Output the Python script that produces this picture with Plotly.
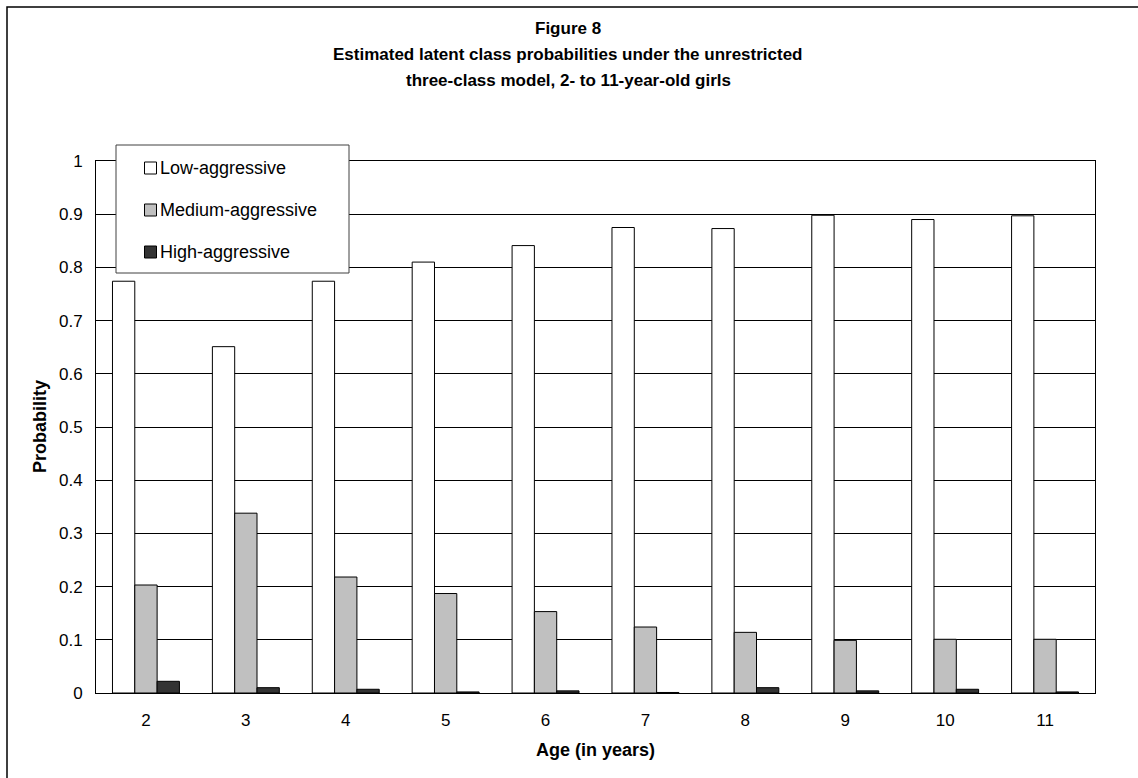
import plotly.graph_objects as go

# Age groups and estimated latent class probabilities
ages = ["2", "3", "4", "5", "6", "7", "8", "9", "10", "11"]
low_aggressive = [0.774, 0.651, 0.774, 0.810, 0.841, 0.875, 0.873, 0.898, 0.890, 0.897]
medium_aggressive = [0.203, 0.338, 0.218, 0.187, 0.153, 0.124, 0.114, 0.099, 0.101, 0.101]
high_aggressive = [0.022, 0.010, 0.007, 0.002, 0.004, 0.001, 0.010, 0.004, 0.007, 0.002]

class_names = ["Low-aggressive", "Medium-aggressive", "High-aggressive"]
class_colors = ["#FFFFFF", "#C0C0C0", "#333333"]
y_ticks = [0, 0.1, 0.2, 0.3, 0.4, 0.5, 0.6, 0.7, 0.8, 0.9, 1]
y_tick_text = ["0", "0.1", "0.2", "0.3", "0.4", "0.5", "0.6", "0.7", "0.8", "0.9", "1"]

title_lines = [
    "Figure 8",
    "Estimated latent class probabilities under the unrestricted",
    "three-class model, 2- to 11-year-old girls",
]

W, H = 1138, 778
ML, MR, MT, MB = 96, 43, 161, 85
PW, PH = W - ML - MR, H - MT - MB
FONT = "Liberation Sans, Arial, sans-serif"


def px_x(px):
    return (px - ML) / PW


def px_y(py):
    return (H - MB - py) / PH


fig = go.Figure()
for name, vals, col in zip(class_names, [low_aggressive, medium_aggressive, high_aggressive], class_colors):
    fig.add_trace(go.Bar(
        x=ages, y=vals, name=name,
        marker=dict(color=col, line=dict(color="#000000", width=1)),
        showlegend=False,
    ))

shapes = []
annotations = []

# outer chart frame (top and left edges visible)
shapes.append(dict(type="rect", xref="paper", yref="paper",
                   x0=px_x(7), x1=px_x(1160), y0=px_y(7), y1=px_y(800),
                   line=dict(color="#000000", width=1.5), fillcolor="rgba(0,0,0,0)", layer="above"))

# legend box
shapes.append(dict(type="rect", xref="paper", yref="paper",
                   x0=px_x(116), x1=px_x(349), y0=px_y(145), y1=px_y(273),
                   line=dict(color="#404040", width=1), fillcolor="#FFFFFF", layer="above"))
for name, col, cy in zip(class_names, class_colors, [168, 210, 252]):
    shapes.append(dict(type="rect", xref="paper", yref="paper",
                       x0=px_x(144.5), x1=px_x(156.5), y0=px_y(cy - 6), y1=px_y(cy + 6),
                       line=dict(color="#000000", width=1), fillcolor=col, layer="above"))
    annotations.append(dict(xref="paper", yref="paper", x=px_x(158), y=px_y(cy),
                            text=name, showarrow=False, xanchor="left", yanchor="middle",
                            font=dict(family=FONT, size=18, color="#000000")))

# title lines
for line, cy in zip(title_lines, [28, 54, 80]):
    annotations.append(dict(xref="paper", yref="paper", x=px_x(568), y=px_y(cy),
                            text="<b>%s</b>" % line, showarrow=False,
                            xanchor="center", yanchor="middle",
                            font=dict(family=FONT, size=17, color="#000000")))

# axis titles
annotations.append(dict(xref="paper", yref="paper", x=px_x(595), y=px_y(750),
                        text="<b>Age (in years)</b>", showarrow=False,
                        xanchor="center", yanchor="middle",
                        font=dict(family=FONT, size=18, color="#000000")))
annotations.append(dict(xref="paper", yref="paper", x=px_x(40), y=px_y(427),
                        text="<b>Probability</b>", showarrow=False, textangle=-90,
                        xanchor="center", yanchor="middle",
                        font=dict(family=FONT, size=18, color="#000000")))

fig.update_layout(
    width=W, height=H,
    margin=dict(l=ML, r=MR, t=MT, b=MB, autoexpand=False),
    paper_bgcolor="#FFFFFF", plot_bgcolor="#FFFFFF",
    barmode="group", bargap=0.33, bargroupgap=0,
    font=dict(family=FONT, size=17, color="#000000"),
    shapes=shapes, annotations=annotations,
    xaxis=dict(
        type="category", showgrid=False, showline=True, linecolor="#000000", linewidth=1,
        mirror=True, ticks="", ticklabelstandoff=12,
        tickfont=dict(family=FONT, size=17, color="#000000"),
    ),
    yaxis=dict(
        range=[0, 1], tickvals=y_ticks, ticktext=y_tick_text,
        showgrid=True, gridcolor="#000000", gridwidth=1,
        showline=True, linecolor="#000000", linewidth=1, mirror=True,
        ticks="", ticklabelstandoff=9, zeroline=False,
        tickfont=dict(family=FONT, size=17, color="#000000"),
    ),
)

fig.write_html("out.html")
